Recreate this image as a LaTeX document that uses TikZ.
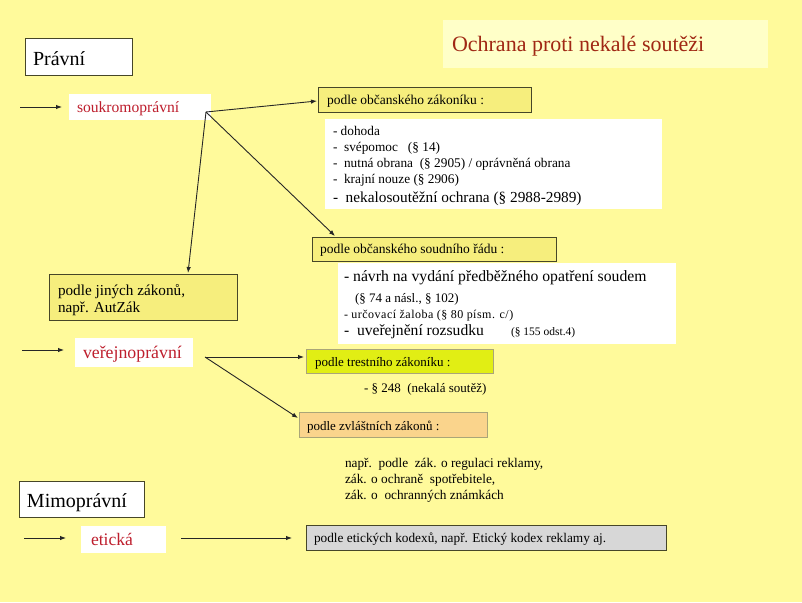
\documentclass[tikz,border=0pt]{standalone}
\usepackage{fontspec}
\setmainfont{Liberation Serif}
\usetikzlibrary{arrows.meta}
\definecolor{bg}{RGB}{255,250,155}
\definecolor{boxy}{RGB}{246,238,125}
\definecolor{cream}{RGB}{255,255,200}
\definecolor{redt}{RGB}{190,30,45}
\definecolor{titler}{RGB}{160,40,20}
\definecolor{edge}{RGB}{70,70,40}
\definecolor{lime}{RGB}{225,238,20}
\definecolor{peach}{RGB}{250,212,140}
\definecolor{greyb}{RGB}{215,215,215}
\definecolor{softedge}{RGB}{170,165,120}
\newcommand{\fs}[1]{\fontsize{#1}{#1}\selectfont}
\begin{document}
\begin{tikzpicture}[x=1pt,y=-1pt,
  panel/.style={anchor=north west, inner sep=0pt, outer sep=0pt},
  framed/.style={panel, draw=edge, line width=0.9pt},
  txt/.style={anchor=base west, inner sep=0pt, outer sep=0pt},
  arr/.style={draw=black!85, line width=0.9pt, -{Latex[length=6pt,width=4.5pt]}}]
\useasboundingbox[fill=bg] (0,0) rectangle (802,602);

% title
\node[panel, fill=cream, minimum width=325pt, minimum height=48pt] (title) at (443,20) {};
\node[txt, text=titler, font=\fs{22}] (titleT) at (452,52) {Ochrana proti nekalé soutěži};

% Pravni
\node[framed, fill=white, minimum width=107pt, minimum height=37pt] (pravni) at (25,38) {};
\node[txt, font=\fs{20}] (pravniT) at (33,65) {Právní};

% soukromopravni
\node[panel, fill=white, minimum width=142pt, minimum height=26pt] (soukr) at (69,94) {};
\node[txt, text=redt, font=\fs{15.6}] (soukrT) at (77,112) {soukromoprávní};

% podle obcanskeho zakoniku
\node[framed, fill=boxy, minimum width=213pt, minimum height=25pt] (obcZak) at (318,87) {};
\node[txt, font=\fs{13.5}] (obcZakT) at (327,104) {podle občanského zákoníku :};

% white list 1
\node[panel, fill=white, minimum width=337pt, minimum height=90pt] (list1) at (325,119) {};
\node[txt, font=\fs{13.3}] (l1a) at (333,135) {- dohoda};
\node[txt, font=\fs{13.3}] (l1b) at (333,151) {-\ \ svépomoc\ \ \ (§ 14)};
\node[txt, font=\fs{13.3}] (l1c) at (333,167) {-\ \ nutná obrana\ \ (§ 2905) / oprávněná obrana};
\node[txt, font=\fs{13.3}] (l1d) at (333,183) {-\ \ krajní nouze (§ 2906)};
\node[txt, font=\fs{15.3}] (l1e) at (333,202) {-\ \ nekalosoutěžní ochrana (§ 2988-2989)};

% podle jinych zakonu
\node[framed, fill=boxy, minimum width=188pt, minimum height=46pt] (jiny) at (49,274) {};
\node[txt, font=\fs{15.2}] (jinyA) at (58,295) {podle jiných zákonů,};
\node[txt, font=\fs{15.2}] (jinyB) at (58,312) {např. AutZák};

% podle obcanskeho soudniho radu
\node[framed, fill=boxy, minimum width=244pt, minimum height=24pt] (obcSoud) at (312,237) {};
\node[txt, font=\fs{13.5}] (obcSoudT) at (320,253) {podle občanského soudního řádu :};

% white list 2
\node[panel, fill=white, minimum width=338pt, minimum height=81pt] (list2) at (338,263) {};
\node[txt, font=\fs{15.7}] (l2a) at (344,281) {- návrh na vydání předběžného opatření soudem};
\node[txt, font=\fs{13}] (l2b) at (355,302) {(§ 74 a násl., § 102)};
\node[txt, font={\fs{12}\addfontfeatures{LetterSpace=4}}] (l2c) at (344,318) {- určovací žaloba (§ 80 písm. c/)};
\node[txt, font=\fs{15.6}] (l2d) at (344,335) {-\ \ uveřejnění rozsudku};
\node[txt, font=\fs{11.5}] (l2e) at (511,335) {(§ 155 odst.4)};

% verejnopravni
\node[panel, fill=white, minimum width=118pt, minimum height=29pt] (verej) at (75,338) {};
\node[txt, text=redt, font=\fs{17.8}] (verejT) at (83,358) {veřejnoprávní};

% podle trestniho zakoniku
\node[panel, fill=lime, draw=softedge, line width=0.9pt, minimum width=187pt, minimum height=24pt] (trest) at (306,349) {};
\node[txt, font=\fs{13}] (trestT) at (315,366) {podle trestního zákoníku :};
\node[txt, font=\fs{13}] (par248) at (364,392) {- § 248\ \ (nekalá soutěž)};

% podle zvlastnich zakonu
\node[panel, fill=peach, draw=softedge, line width=0.9pt, minimum width=188pt, minimum height=25pt] (zvl) at (299,412) {};
\node[txt, font=\fs{13}] (zvlT) at (307,430) {podle zvláštních zákonů :};
\node[txt, font=\fs{13.3}] (napA) at (345,467) {např.\ \ podle\ \ zák. o regulaci reklamy,};
\node[txt, font=\fs{13.3}] (napB) at (345,483) {zák. o ochraně\ \ spotřebitele,};
\node[txt, font=\fs{13.3}] (napC) at (345,499) {zák. o\ \ ochranných známkách};

% Mimopravni
\node[framed, fill=white, minimum width=125pt, minimum height=36pt] (mimo) at (19,481) {};
\node[txt, font=\fs{20}] (mimoT) at (27,507) {Mimoprávní};

% eticka
\node[panel, fill=white, minimum width=85pt, minimum height=27pt] (etic) at (81,526) {};
\node[txt, text=redt, font=\fs{17.6}] (eticT) at (91,545) {etická};

% eticke kodexy
\node[framed, fill=greyb, minimum width=360pt, minimum height=25pt] (kodex) at (306,525) {};
\node[txt, font=\fs{13.3}] (kodexT) at (314,542) {podle etických kodexů, např. Etický kodex reklamy aj.};

% connector end points
\coordinate (s1) at (20,107);  \coordinate (e1) at (62,107);
\coordinate (hub1) at (206,112);
\coordinate (toZak) at (317,101);
\coordinate (toJiny) at (188,273);
\coordinate (toSoud) at (335,236);
\coordinate (s2) at (22,350);  \coordinate (e2) at (64,350);
\coordinate (hub2) at (205,357);
\coordinate (toTrest) at (304,357);
\coordinate (toZvl) at (298,418);
\coordinate (s3) at (24,538);  \coordinate (e3) at (66,538);
\coordinate (s4) at (181,538); \coordinate (toKodex) at (292,538);

\draw[arr] (s1) -- (e1);
\draw[arr] (hub1) -- (toZak);
\draw[arr] (hub1) -- (toJiny);
\draw[arr] (hub1) -- (toSoud);
\draw[arr] (s2) -- (e2);
\draw[arr] (hub2) -- (toTrest);
\draw[arr] (hub2) -- (toZvl);
\draw[arr] (s3) -- (e3);
\draw[arr] (s4) -- (toKodex);
\end{tikzpicture}
\end{document}
